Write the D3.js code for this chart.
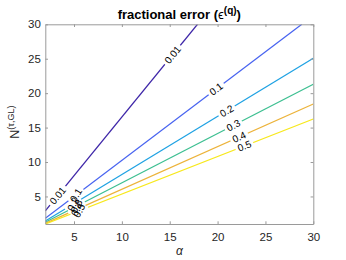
<!DOCTYPE html>
<html><head><meta charset="utf-8">
<script src="https://cdn.jsdelivr.net/npm/d3@7/dist/d3.min.js"></script>
<style>
body{margin:0;background:#fff}
text{font-family:"Liberation Sans",Arial,Helvetica,sans-serif}
</style>
</head><body>
<svg id="chart" width="346" height="260"></svg>
<script>
// ---- data ----
const levels = [0.01, 0.1, 0.2, 0.3, 0.4, 0.5];
const levelLabels = ["0.01", "0.1", "0.2", "0.3", "0.4", "0.5"];
// contour paths: [alpha, N]
const contour001 = [[2, 2.9], [17.9, 30]];
const contour01  = [[2, 1.83], [28.8, 30]];
const contour02  = [[2, 1.44], [30, 25.06]];
const contour03  = [[2, 1.25], [30, 21.3]];
const contour04  = [[2, 1.1], [30, 18.43]];
const contour05  = [[2, 1.0], [30, 16.25]];
const contours = [contour001, contour01, contour02, contour03, contour04, contour05];
const xTicks = [5, 10, 15, 20, 25, 30];
const yTicks = [5, 10, 15, 20, 25, 30];
const xDomain = [2, 30];
const yDomain = [1, 30];

// ---- layout / style ----
const M = {l: 45.3, r: 313.3, t: 24.3, b: 224};
const colors = ["#3e26a8", "#4763f0", "#1fa2e3", "#3dbf91", "#ecb33a", "#f7e81c"];
// label placement along each contour (alpha values) : [lower, upper]
const labelAt = [[3.3, 15.3], [5.2, 19.85], [4.9, 20.95], [5.25, 21.65], [5.3, 22.25], [5.55, 22.8]];
const lowerRot = [-50, -60, -62, -62, -62, -62];

const svg = d3.select("#chart");
const x = d3.scaleLinear().domain(xDomain).range([M.l, M.r]);
const y = d3.scaleLinear().domain(yDomain).range([M.b, M.t]);

const defs = svg.append("defs");
defs.append("clipPath").attr("id", "plotclip")
  .append("rect").attr("x", M.l).attr("y", M.t).attr("width", M.r - M.l).attr("height", M.b - M.t);

function pointAt(path, a) {
  for (let i = 0; i < path.length - 1; i++) {
    const [a0, n0] = path[i], [a1, n1] = path[i + 1];
    if (a >= a0 && a <= a1 || i === path.length - 2) {
      const t = (a - a0) / (a1 - a0);
      const px0 = x(a0), py0 = y(n0), px1 = x(a1), py1 = y(n1);
      return {x: px0 + t * (px1 - px0), y: py0 + t * (py1 - py0),
              ang: Math.atan2(py1 - py0, px1 - px0) * 180 / Math.PI};
    }
  }
}

const line = d3.line().x(d => x(d[0])).y(d => y(d[1]));
const labelFont = 10;
const gLines = svg.append("g").attr("clip-path", "url(#plotclip)");
const gLabels = svg.append("g");

contours.forEach((path, i) => {
  const txt = levelLabels[i];
  const tmp = svg.append("text").attr("font-size", labelFont).text(txt);
  const tw = tmp.node().getComputedTextLength();
  tmp.remove();
  const mask = defs.append("mask").attr("id", "m" + i).attr("maskUnits", "userSpaceOnUse")
    .attr("x", 0).attr("y", 0).attr("width", 346).attr("height", 260);
  mask.append("rect").attr("x", 0).attr("y", 0).attr("width", 346).attr("height", 260).attr("fill", "#fff");
  labelAt[i].forEach((a, k) => {
    const p = pointAt(path, a);
    const rot = k === 0 ? lowerRot[i] : p.ang;
    mask.append("rect")
      .attr("x", -tw / 2 - 2.5).attr("y", -5).attr("width", tw + 5).attr("height", 10)
      .attr("transform", `translate(${p.x},${p.y}) rotate(${p.ang})`)
      .attr("fill", "#000");
    gLabels.append("text")
      .attr("transform", `translate(${p.x},${p.y}) rotate(${rot})`)
      .attr("text-anchor", "middle").attr("dy", "0.35em")
      .attr("font-size", labelFont).attr("fill", "#000")
      .text(txt);
  });
  gLines.append("path").datum(path)
    .attr("d", line).attr("fill", "none")
    .attr("stroke", colors[i]).attr("stroke-width", 1.3)
    .attr("mask", `url(#m${i})`);
});

// ---- axes ----
const axisColor = "#9a9a9a", tickText = "#262626";
function styleAxis(g, showLabels) {
  g.select(".domain").attr("stroke", axisColor).attr("stroke-width", 1);
  g.selectAll(".tick line").attr("stroke", axisColor);
  g.selectAll(".tick text").attr("fill", tickText).attr("font-size", 11.5)
    .attr("font-family", '"Liberation Sans",Arial,sans-serif');
  if (!showLabels) g.selectAll(".tick text").remove();
}
svg.append("g").attr("transform", `translate(0,${M.b})`)
  .call(d3.axisBottom(x).tickValues(xTicks).tickSizeInner(-2.7).tickSizeOuter(0).tickPadding(9))
  .call(g => styleAxis(g, true));
svg.append("g").attr("transform", `translate(0,${M.t})`)
  .call(d3.axisTop(x).tickValues(xTicks).tickSizeInner(-2.7).tickSizeOuter(0))
  .call(g => styleAxis(g, false));
svg.append("g").attr("transform", `translate(${M.l},0)`)
  .call(d3.axisLeft(y).tickValues(yTicks).tickSizeInner(-2.7).tickSizeOuter(0).tickPadding(4.5))
  .call(g => styleAxis(g, true));
svg.append("g").attr("transform", `translate(${M.r},0)`)
  .call(d3.axisRight(y).tickValues(yTicks).tickSizeInner(-2.7).tickSizeOuter(0))
  .call(g => styleAxis(g, false));

// ---- title ----
const title = svg.append("text").attr("x", (M.l + M.r) / 2).attr("y", 19)
  .attr("text-anchor", "middle").attr("font-size", 13).attr("font-weight", "bold").attr("fill", "#000");
title.append("tspan").text("fractional error (");
title.append("tspan").attr("font-weight", "normal").text("ϵ");
title.append("tspan").attr("font-size", 10).attr("dy", -5).text("(q)");
title.append("tspan").attr("dy", 5).text(")");

// ---- axis labels ----
svg.append("text").attr("x", (M.l + M.r) / 2).attr("y", 255)
  .attr("text-anchor", "middle").attr("font-size", 12).attr("font-style", "italic").attr("fill", tickText).text("α");
const yl = svg.append("text").attr("transform", `translate(18.5,${(M.t + M.b) / 2 - 2})`).attr("fill", tickText);
const ylt = yl.append("text");
const ylabel = svg.append("text").attr("transform", `translate(19,${(M.t + M.b) / 2 - 2}) rotate(-90)`)
  .attr("text-anchor", "middle").attr("font-size", 12.5).attr("fill", tickText);
ylabel.append("tspan").text("N");
ylabel.append("tspan").attr("font-size", 9).attr("dy", -5).text("(τ,GL)");
yl.remove();
</script>
</body></html>
